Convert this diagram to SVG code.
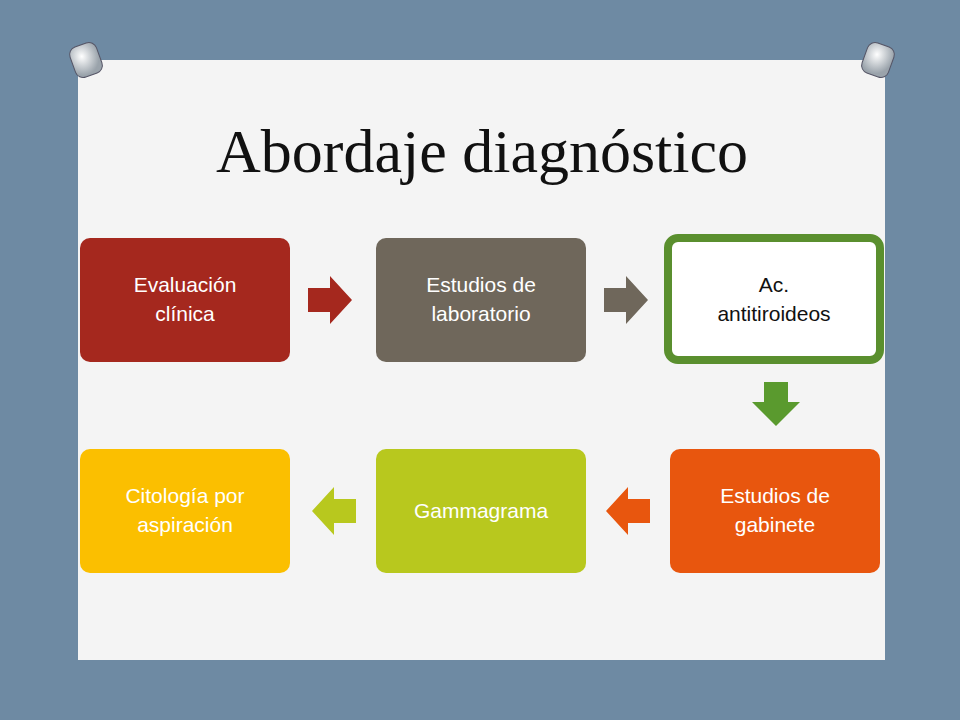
<svg xmlns="http://www.w3.org/2000/svg" width="960" height="720" viewBox="0 0 960 720">
<style>
.t{font-family:"Liberation Sans",Arial,sans-serif;font-size:21px;fill:#fff;text-anchor:middle}
</style>
<defs>
<radialGradient id="pin" cx="0.4" cy="0.35" r="0.6"><stop offset="0" stop-color="#fff"/><stop offset="1" stop-color="#9aa3ab"/></radialGradient>
</defs>
<rect width="960" height="720" fill="#6e8aa3"/>
<rect x="78" y="60" width="807" height="600" fill="#f4f4f4"/>
<g id="pins">
<rect x="72" y="44" width="28" height="32" rx="8" fill="url(#pin)" stroke="#556" stroke-width="1" transform="rotate(-20 86 60)"/>
<rect x="864" y="44" width="28" height="32" rx="8" fill="url(#pin)" stroke="#556" stroke-width="1" transform="rotate(20 878 60)"/>
</g>
<text x="482" y="172" font-family="Liberation Serif,serif" font-size="62" text-anchor="middle" fill="#111">Abordaje diagnóstico</text>
<g id="n1"><rect x="80" y="238" width="210" height="124" rx="10" fill="#a5281e"/><text class="t" x="185" y="292">Evaluación</text><text class="t" x="185" y="321">clínica</text></g>
<g id="n2"><rect x="376" y="238" width="210" height="124" rx="10" fill="#6f675b"/><text class="t" x="481" y="292">Estudios de</text><text class="t" x="481" y="321">laboratorio</text></g>
<g id="n3"><rect x="668" y="238" width="212" height="122" rx="10" fill="#fff" stroke="#5a8f2e" stroke-width="8"/><text class="t" x="774" y="292" style="fill:#111">Ac.</text><text class="t" x="774" y="321" style="fill:#111">antitiroideos</text></g>
<g id="n4"><rect x="670" y="449" width="210" height="124" rx="10" fill="#e8560e"/><text class="t" x="775" y="503">Estudios de</text><text class="t" x="775" y="532">gabinete</text></g>
<g id="n5"><rect x="376" y="449" width="210" height="124" rx="10" fill="#b8c81e"/><text class="t" x="481" y="518">Gammagrama</text></g>
<g id="n6"><rect x="80" y="449" width="210" height="124" rx="10" fill="#fbbf00"/><text class="t" x="185" y="503">Citología por</text><text class="t" x="185" y="532">aspiración</text></g>
<g id="connectors">
<polygon points="308,288 330,288 330,276 352,300 330,324 330,312 308,312" fill="#a5281e"/>
<polygon points="604,288 626,288 626,276 648,300 626,324 626,312 604,312" fill="#6f675b"/>
<polygon points="764,382 788,382 788,402 800,402 776,426 752,402 764,402" fill="#5a9a2e"/>
<polygon points="650,499 628,499 628,487 606,511 628,535 628,523 650,523" fill="#e8560e"/>
<polygon points="356,499 334,499 334,487 312,511 334,535 334,523 356,523" fill="#b8c81e"/>
</g>
</svg>
